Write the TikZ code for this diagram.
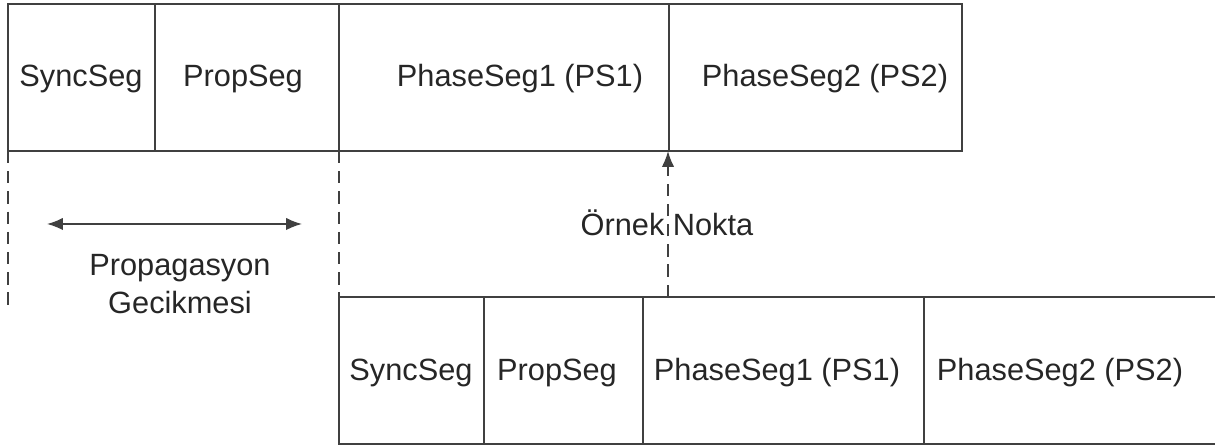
\documentclass[tikz,border=0pt]{standalone}
\usepackage{fontspec}
\setmainfont{Liberation Sans}
\usetikzlibrary{arrows.meta}

\begin{document}
\begin{tikzpicture}[x=0.02cm, y=-0.02cm,
    segline/.style={draw=black!75, line width=0.9pt},
    dline/.style={draw=black!75, line width=0.9pt, dash pattern=on 7pt off 4.5pt},
    lbl/.style={text=black!85, font=\fontsize{17.5}{21}\selectfont, inner sep=0pt}]

  \useasboundingbox (0,0) rectangle (1215,445);

  \coordinate (tl) at (8,4);
  \coordinate (bl) at (339,297);

  \draw[segline] (tl) rectangle ++(954,147);
  \draw[segline] (tl)++(147,0) -- ++(0,147);
  \draw[segline] (tl)++(331,0) -- ++(0,147);
  \draw[segline] (tl)++(661,0) -- ++(0,147);

  \draw[segline] (bl) rectangle ++(885,147);
  \draw[segline] (bl)++(145,0) -- ++(0,147);
  \draw[segline] (bl)++(304,0) -- ++(0,147);
  \draw[segline] (bl)++(585,0) -- ++(0,147);

  \node[lbl] (sync1) at (81,79) {SyncSeg};
  \node[lbl] (prop1) at (243,79) {PropSeg};
  \node[lbl] (ps11) at (520,79) {PhaseSeg1 (PS1)};
  \node[lbl] (ps21) at (825,79) {PhaseSeg2 (PS2)};

  \node[lbl] (sync2) at (411,373) {SyncSeg};
  \node[lbl] (prop2) at (557,373) {PropSeg};
  \node[lbl] (ps12) at (777,373) {PhaseSeg1 (PS1)};
  \node[lbl] (ps22) at (1060,373) {PhaseSeg2 (PS2)};

  \coordinate (start1) at (8,151);
  \coordinate (end1) at (8,312);
  \coordinate (start2) at (339,151);
  \coordinate (sample) at (668,297);
  \coordinate (sampletop) at (668,151);

  \draw[dline] (start1) -- (end1);
  \draw[dline] (start2) -- (bl);
  \draw[dline, -{Latex[length=9pt, width=7pt]}] (sample) -- (sampletop);

  \coordinate (pl) at (47,224);
  \coordinate (pr) at (302,224);
  \draw[segline, {Latex[length=9pt, width=7pt]}-{Latex[length=9pt, width=7pt]}] (pl) -- (pr);

  \node[lbl] (prop) at (180,268) {Propagasyon};
  \node[lbl] (gec) at (180,303) {Gecikmesi};
  \node[lbl] (ornek) at (667,223) {Örnek Nokta};

\end{tikzpicture}
\end{document}
